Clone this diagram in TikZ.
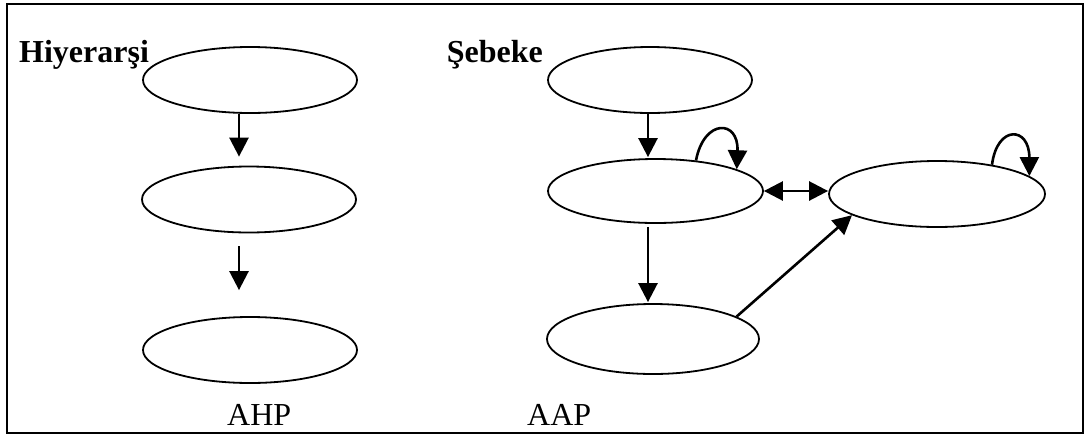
\documentclass[tikz,border=0pt]{standalone}
\usepackage{fontspec}
\setmainfont{Liberation Serif}
\usetikzlibrary{shapes.geometric,arrows.meta,calc}
\begin{document}
\begin{tikzpicture}[x=1pt,y=-1pt,
  ell/.style={draw,ellipse,line width=1.8pt,inner sep=0pt,minimum width=214pt,minimum height=66pt},
  arr/.style={line width=2.6pt,-{Triangle[length=19pt,width=19pt]}},
  darr/.style={line width=2.6pt,{Triangle[length=19pt,width=19pt]}-{Triangle[length=19pt,width=19pt]}},
  lbl/.style={inner sep=0pt,font=\fontsize{32}{38}\selectfont},
  title/.style={inner sep=0pt,font=\fontsize{32}{38}\selectfont\bfseries}]
\useasboundingbox (0,0) rectangle (1090,437);
\draw[line width=2.6pt] (7,4) rectangle (1083,433);
% AHP
\node[ell] (a1) at (250,80) {};
\node[ell] (a2) at (249,199.5) {};
\node[ell] (a3) at (250,350) {};
\node[title,anchor=base west] (th) at (19,62) {Hiyerarşi};
\node[lbl,anchor=base west] (tahp) at (227,425) {AHP};
\draw[arr] ([xshift=-11pt]a1.south) -- ([xshift=-10pt,yshift=9pt]a2.north);
\draw[arr] ([xshift=-10pt,yshift=-13pt]a2.south) -- ([xshift=-11pt,yshift=26pt]a3.north);
% AAP
\node[ell,minimum width=204pt] (n1) at (650,80) {};
\node[ell,minimum width=215pt,minimum height=64pt] (n2) at (655.5,191) {};
\node[ell,minimum width=212pt,minimum height=70pt] (n3) at (653,339) {};
\node[ell,minimum width=216pt] (n4) at (937,194) {};
\node[title,anchor=base east] (ts) at (543,62) {Şebeke};
\node[lbl,anchor=base west] (taap) at (527,425) {AAP};
\draw[arr] ([xshift=-2pt]n1.south) -- ([xshift=-7.5pt,yshift=1pt]n2.north);
\draw[arr] ([xshift=-7.5pt,yshift=-3pt]n2.south) -- ([xshift=-5pt,yshift=1pt]n3.north);
\draw[darr] (n2.east) -- (n2.east -| n4.west);
\draw[arr] (n3.15) -- (n4.194);
\draw[arr] (n2.37) .. controls ($(n2.37)+(8,-42)$) and ($(n2.15)+(2,-50)$) .. (n2.15);
\draw[arr] (n4.28) .. controls ($(n4.28)+(5,-40)$) and ($(n4.11)+(0,-50)$) .. (n4.11);
\end{tikzpicture}
\end{document}
